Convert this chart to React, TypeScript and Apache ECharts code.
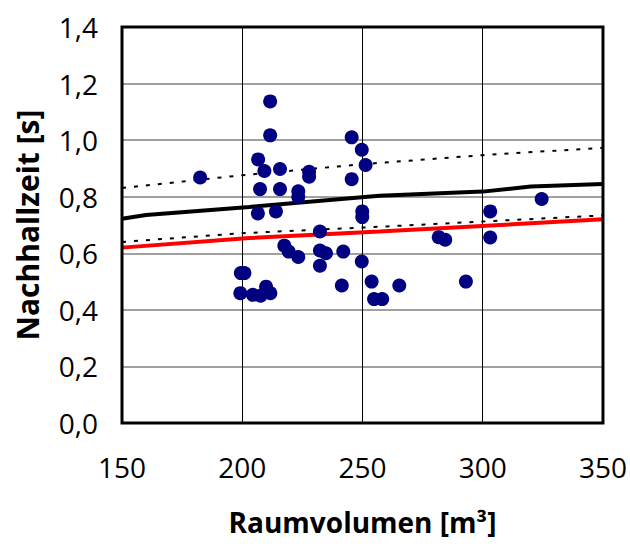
import React, { useEffect, useRef } from "react";
import * as echarts from "echarts";

// Measured rooms: volume [m³] and reverberation time [s]
const roomVolume = [
  182.5, 211.6, 211.6, 245.5, 249.7, 251.3, 245.5, 206.6, 209.2, 215.7,
  227.8, 227.8, 207.4, 215.7, 223.3, 223.3, 206.5, 214.0, 249.9, 249.9,
  232.3, 232.3, 234.8, 242.0, 217.5, 219.3, 223.3, 232.3, 249.7, 199.4,
  200.9, 199.2, 204.4, 207.6, 209.9, 211.7, 241.4, 253.8, 254.8, 258.2,
  265.3, 293.0, 281.7, 284.4, 303.1, 303.1, 324.5,
];
const reverbTime = [
  0.868, 1.137, 1.017, 1.01, 0.966, 0.912, 0.862, 0.932, 0.891, 0.898,
  0.888, 0.871, 0.827, 0.827, 0.819, 0.799, 0.741, 0.748, 0.748, 0.728,
  0.677, 0.61, 0.6, 0.606, 0.627, 0.606, 0.587, 0.556, 0.571, 0.53,
  0.53, 0.459, 0.453, 0.45, 0.482, 0.459, 0.486, 0.5, 0.438, 0.438,
  0.486, 0.5, 0.657, 0.648, 0.748, 0.656, 0.792,
];

// Reference curves
const targetVolume = [150, 160, 203, 257, 300, 320, 350];
const targetTime = [0.722, 0.735, 0.764, 0.803, 0.818, 0.836, 0.845];

const upperVolume = [150, 200, 250, 300, 350];
const upperTime = [0.831, 0.876, 0.915, 0.947, 0.973];

const lowerVolume = [150, 200, 230, 260, 350];
const lowerTime = [0.64, 0.671, 0.683, 0.695, 0.734];

const redVolume = [150, 203, 257, 350];
const redTime = [0.62, 0.654, 0.677, 0.72];

const xTicks = [150, 200, 250, 300, 350];
const yTicks = [0, 0.2, 0.4, 0.6, 0.8, 1.0, 1.2, 1.4];

const zip = (xs: number[], ys: number[]) => xs.map((x, i) => [x, ys[i]]);

const FONT = "'Open Sans', 'Noto Sans', sans-serif";

export default function App() {
  const ref = useRef<HTMLDivElement>(null);

  useEffect(() => {
    if (!ref.current) return;
    const chart = echarts.init(ref.current, undefined, { renderer: "svg" });
    chart.setOption({
      animation: false,
      backgroundColor: "#ffffff",
      grid: {
        left: 122,
        right: 25,
        top: 27,
        bottom: 126,
        show: true,
        borderColor: "#000000",
        borderWidth: 3,
        backgroundColor: "transparent",
        z: 5,
      },
      xAxis: {
        type: "value",
        min: xTicks[0],
        max: xTicks[xTicks.length - 1],
        interval: 50,
        name: "Raumvolumen [m³]",
        nameLocation: "middle",
        nameGap: 85,
        nameTextStyle: { fontFamily: FONT, fontSize: 28, fontWeight: "bold", color: "#000" },
        axisLine: { show: false },
        axisTick: { show: false },
        axisLabel: { fontFamily: FONT, fontSize: 28, color: "#000", margin: 30 },
        splitLine: { show: true, lineStyle: { color: "#000000", width: 1 } },
      },
      yAxis: {
        type: "value",
        min: 0,
        max: yTicks[yTicks.length - 1],
        interval: 0.2,
        name: "Nachhallzeit [s]",
        nameLocation: "middle",
        nameGap: 80,
        nameTextStyle: { fontFamily: FONT, fontSize: 30, fontWeight: "bold", color: "#000" },
        axisLine: { show: false },
        axisTick: { show: false },
        axisLabel: {
          fontFamily: FONT,
          fontSize: 28,
          color: "#000",
          margin: 24,
          formatter: (v: number) => v.toFixed(1).replace(".", ","),
        },
        splitLine: { show: true, lineStyle: { color: "#808080", width: 1.5 } },
      },
      series: [
        {
          type: "line",
          data: zip(upperVolume, upperTime),
          symbol: "none",
          lineStyle: { color: "#000", width: 2, type: [4, 8] },
          z: 2,
        },
        {
          type: "line",
          data: zip(lowerVolume, lowerTime),
          symbol: "none",
          lineStyle: { color: "#000", width: 2, type: [4, 8] },
          z: 2,
        },
        {
          type: "line",
          data: zip(targetVolume, targetTime),
          symbol: "none",
          lineStyle: { color: "#000", width: 4 },
          z: 3,
        },
        {
          type: "line",
          data: zip(redVolume, redTime),
          symbol: "none",
          lineStyle: { color: "#ff0000", width: 4 },
          z: 3,
        },
        {
          type: "scatter",
          data: zip(roomVolume, reverbTime),
          symbol: "circle",
          symbolSize: 14,
          itemStyle: { color: "#000080", opacity: 1 },
          z: 6,
        },
      ],
    });
    return () => chart.dispose();
  }, []);

  return <div ref={ref} style={{ width: 630, height: 549, position: "absolute", left: 0, top: 0 }} />;
}
